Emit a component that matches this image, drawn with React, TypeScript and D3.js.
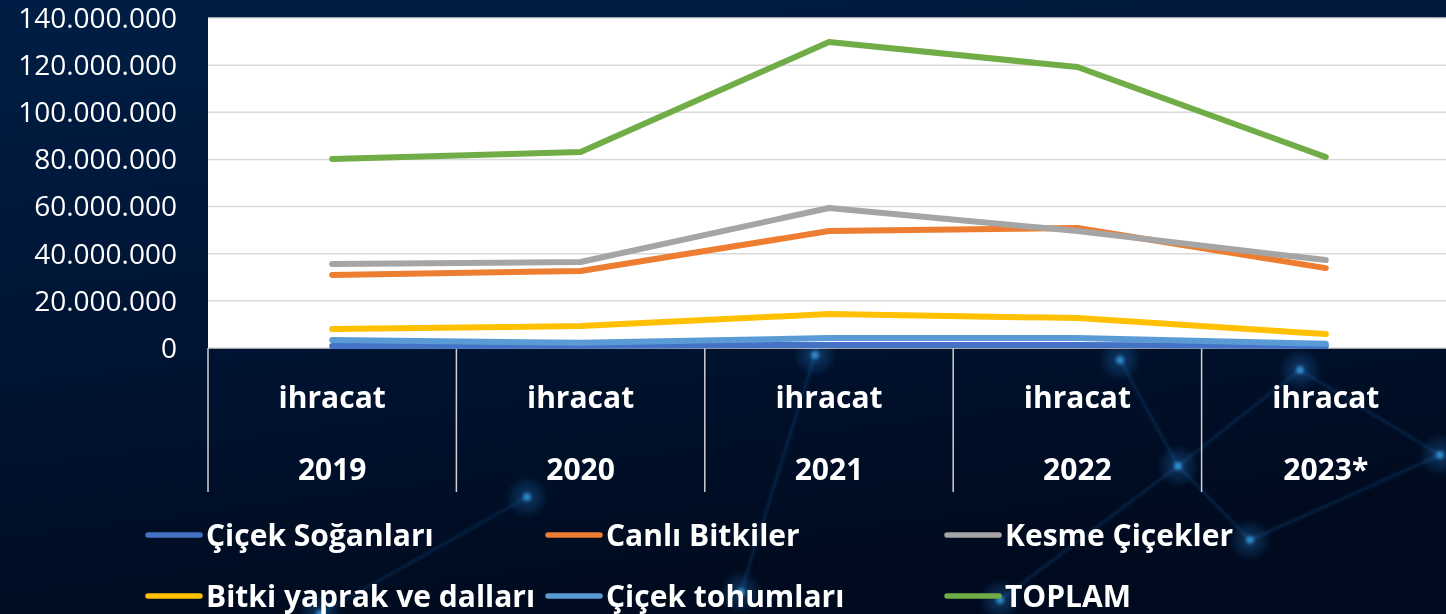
import { useEffect, useRef } from 'react';
import * as d3 from 'd3';

const categories = ['2019', '2020', '2021', '2022', '2023*'];
const categoryTop = 'ihracat';

const seriesNames = [
  'Çiçek Soğanları',
  'Canlı Bitkiler',
  'Kesme Çiçekler',
  'Bitki yaprak ve dalları',
  'Çiçek tohumları',
  'TOPLAM',
];

const cicekSoganlari = [800000, 1000000, 1300000, 1300000, 900000];
const canliBitkiler = [31000000, 32700000, 49600000, 50900000, 33900000];
const kesmeCicekler = [35600000, 36500000, 59400000, 49600000, 37300000];
const bitkiYaprak = [8100000, 9300000, 14400000, 12700000, 5900000];
const cicekTohumlari = [3400000, 2200000, 4200000, 4200000, 1800000];
const toplam = [80200000, 83200000, 129800000, 119200000, 81000000];

const seriesValues = [cicekSoganlari, canliBitkiler, kesmeCicekler, bitkiYaprak, cicekTohumlari, toplam];
const seriesColors = ['#4472c4', '#ed7d31', '#a5a5a5', '#ffc000', '#5b9bd5', '#70ad47'];

const yTicks = [0, 20000000, 40000000, 60000000, 80000000, 100000000, 120000000, 140000000];

export default function App() {
  const svgRef = useRef<SVGSVGElement>(null);

  useEffect(() => {
    if (!svgRef.current) return;
    const svg = d3.select(svgRef.current);
    svg.selectAll('*').remove();

    const W = 1446;
    const H = 614;
    const plot = { left: 208, right: 1450, top: 18, bottom: 348 };
    const font = '"Open Sans", sans-serif';

    // background
    const defs = svg.append('defs');
    const bg = defs.append('linearGradient').attr('id', 'bg').attr('x1', 0).attr('y1', 0).attr('x2', 0.3).attr('y2', 1);
    bg.append('stop').attr('offset', '0%').attr('stop-color', '#001e45');
    bg.append('stop').attr('offset', '55%').attr('stop-color', '#001433');
    bg.append('stop').attr('offset', '100%').attr('stop-color', '#000b1f');
    const glow = defs.append('radialGradient').attr('id', 'glow');
    glow.append('stop').attr('offset', '0%').attr('stop-color', '#2f9fff').attr('stop-opacity', 0.7);
    glow.append('stop').attr('offset', '100%').attr('stop-color', '#2f9fff').attr('stop-opacity', 0);
    defs.append('filter').attr('id', 'soft').append('feGaussianBlur').attr('stdDeviation', 1.5);
    svg.append('rect').attr('width', W).attr('height', H).attr('fill', 'url(#bg)');

    // faint decorative network behind everything
    const nodes: [number, number][] = [
      [741, 592], [527, 497], [815, 355], [1178, 466], [1300, 370], [1000, 600],
      [1120, 360], [1440, 455], [320, 614], [1250, 540],
    ];
    const links: [number, number][] = [[0, 2], [1, 8], [3, 4], [3, 5], [6, 3], [4, 7], [3, 9], [9, 7]];
    const deco = svg.append('g').attr('filter', 'url(#soft)');
    links.forEach(([a, b]) => {
      deco.append('line')
        .attr('x1', nodes[a][0]).attr('y1', nodes[a][1])
        .attr('x2', nodes[b][0]).attr('y2', nodes[b][1])
        .attr('stroke', '#1b6fb8').attr('stroke-opacity', 0.35).attr('stroke-width', 2);
    });
    nodes.forEach(([x, y]) => {
      deco.append('circle').attr('cx', x).attr('cy', y).attr('r', 22).attr('fill', 'url(#glow)').attr('opacity', 0.45);
      deco.append('circle').attr('cx', x).attr('cy', y).attr('r', 4).attr('fill', '#3fb6ff').attr('opacity', 0.6);
    });

    const x = d3.scaleBand().domain(categories).range([plot.left, plot.right]);
    const y = d3.scaleLinear().domain([0, 140000000]).range([plot.bottom, plot.top]);
    const cx = (c: string) => (x(c) ?? 0) + x.bandwidth() / 2;

    // plot area
    svg.append('rect')
      .attr('x', plot.left).attr('y', plot.top)
      .attr('width', W - plot.left).attr('height', plot.bottom - plot.top)
      .attr('fill', '#ffffff');

    const fmt = d3.formatLocale({ decimal: ',', thousands: '.', grouping: [3], currency: ['', ''] }).format(',');

    svg.append('g')
      .selectAll('line')
      .data(yTicks)
      .join('line')
      .attr('x1', plot.left).attr('x2', W)
      .attr('y1', d => y(d)).attr('y2', d => y(d))
      .attr('stroke', '#d9d9d9').attr('stroke-width', 1.5);

    svg.append('g')
      .selectAll('text')
      .data(yTicks)
      .join('text')
      .attr('x', 177)
      .attr('y', d => y(d))
      .attr('dy', '0.35em')
      .attr('text-anchor', 'end')
      .attr('fill', '#ffffff')
      .attr('font-family', font)
      .attr('font-size', 28)
      .text(d => fmt(d));

    // category axis separators
    const seps = categories.map(c => x(c) ?? 0);
    svg.append('g')
      .selectAll('line')
      .data(seps)
      .join('line')
      .attr('x1', d => d).attr('x2', d => d)
      .attr('y1', plot.bottom).attr('y2', 492)
      .attr('stroke', '#d0d0d0').attr('stroke-width', 1.5);

    const catG = svg.append('g')
      .attr('fill', '#ffffff')
      .attr('font-family', font)
      .attr('font-weight', 700)
      .attr('font-size', 30)
      .attr('text-anchor', 'middle');
    categories.forEach(c => {
      catG.append('text').attr('x', cx(c)).attr('y', 408).text(categoryTop);
      catG.append('text').attr('x', cx(c)).attr('y', 480).text(c);
    });

    // lines
    const line = d3.line<number>()
      .x((_, i) => cx(categories[i]))
      .y(d => y(d));
    seriesValues.forEach((vals, i) => {
      svg.append('path')
        .attr('d', line(vals))
        .attr('fill', 'none')
        .attr('stroke', seriesColors[i])
        .attr('stroke-width', 6)
        .attr('stroke-linecap', 'round')
        .attr('stroke-linejoin', 'round');
    });

    // legend
    const legX = [148, 548, 947];
    const legY = [535, 596];
    const leg = svg.append('g');
    seriesNames.forEach((name, i) => {
      const lx = legX[i % 3];
      const ly = legY[Math.floor(i / 3)];
      leg.append('line')
        .attr('x1', lx).attr('x2', lx + 52)
        .attr('y1', ly).attr('y2', ly)
        .attr('stroke', seriesColors[i]).attr('stroke-width', 5.5).attr('stroke-linecap', 'round');
      leg.append('text')
        .attr('x', lx + 58).attr('y', ly)
        .attr('dy', '0.36em')
        .attr('fill', '#ffffff')
        .attr('font-family', font)
        .attr('font-weight', 700)
        .attr('font-size', 30)
        .text(name);
    });
  }, []);

  return (
    <div style={{ position: 'fixed', left: 0, top: 0, width: 1446, height: 614, overflow: 'hidden' }}>
      <svg ref={svgRef} width={1446} height={614} style={{ display: 'block' }}></svg>
    </div>
  );
}
